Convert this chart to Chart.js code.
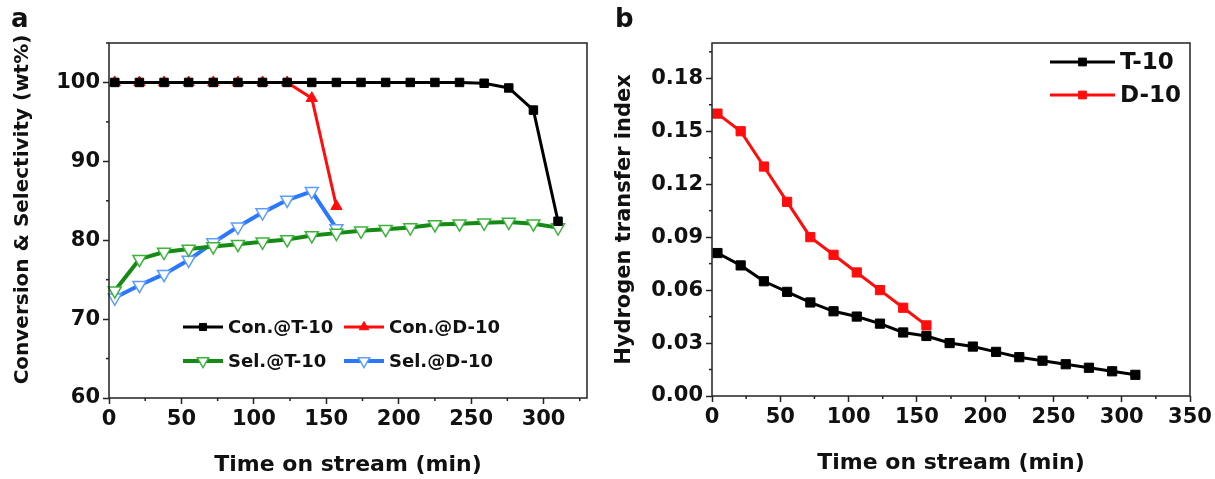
<!DOCTYPE html>
<html>
<head>
<meta charset="utf-8">
<script src="https://cdn.jsdelivr.net/npm/chart.js@4/dist/chart.umd.min.js"></script>
<style>
  html, body { margin: 0; padding: 0; background: #fff; }
  #wrap { position: relative; width: 1215px; height: 479px; }
  canvas { position: absolute; top: 0; }
  #chartA { left: 0; }
  #chartB { left: 600px; }
</style>
</head>
<body>
<div id="wrap">
  <canvas id="chartA" width="600" height="479"></canvas>
  <canvas id="chartB" width="615" height="479"></canvas>
</div>
<script>
// time on stream (min)
const timeT10 = [4, 21, 38, 55, 72, 89, 106, 123, 140, 157, 174, 191, 208, 225, 242, 259, 276, 293, 310];
const timeD10 = [4, 21, 38, 55, 72, 89, 106, 123, 140, 157];

// panel a: conversion & selectivity (wt%)
const conT10 = [100, 100, 100, 100, 100, 100, 100, 100, 100, 100, 100, 100, 100, 100, 100, 99.9, 99.3, 96.5, 82.4];
const conD10 = [100, 100, 100, 100, 100, 100, 100, 100, 98.0, 84.3];
const selT10 = [73.6, 77.6, 78.5, 78.9, 79.2, 79.5, 79.8, 80.1, 80.6, 80.9, 81.2, 81.4, 81.6, 82.0, 82.1, 82.2, 82.3, 82.1, 81.6];
const selD10 = [72.7, 74.3, 75.7, 77.5, 79.7, 81.7, 83.5, 85.1, 86.2, 81.5];

// panel b: hydrogen transfer index
const htiT10 = [0.081, 0.074, 0.065, 0.059, 0.053, 0.048, 0.045, 0.041, 0.036, 0.034, 0.030, 0.028, 0.025, 0.022, 0.020, 0.018, 0.016, 0.014, 0.012];
const htiD10 = [0.160, 0.150, 0.130, 0.110, 0.090, 0.080, 0.070, 0.060, 0.050, 0.040];

const FONT = 'DejaVu Sans';
const pts = (xs, ys) => xs.map((x, i) => ({ x, y: ys[i] }));

// frame on all four sides + short minor ticks
const frame = {
  id: 'frame',
  afterDraw(chart, args, o) {
    const { ctx, chartArea: a, scales } = chart;
    ctx.save();
    ctx.strokeStyle = '#222';
    ctx.lineWidth = 1.5;
    ctx.strokeRect(a.left, a.top, a.right - a.left, a.bottom - a.top);
    for (const id of ['x', 'y']) {
      const s = scales[id], step = o.minor[id];
      const majors = s.ticks.map(t => t.value);
      for (let v = s.min; v <= s.max + 1e-9; v += step) {
        if (majors.some(m => Math.abs(m - v) < step / 10)) continue;
        const p = s.getPixelForValue(v);
        ctx.beginPath();
        if (id === 'x') { ctx.moveTo(p, a.bottom); ctx.lineTo(p, a.bottom + 3); }
        else { ctx.moveTo(a.left, p); ctx.lineTo(a.left - 3, p); }
        ctx.stroke();
      }
    }
    ctx.restore();
  }
};

// axis titles, panel letter and an in-plot legend
const texts = {
  id: 'texts',
  afterDraw(chart, args, o) {
    const { ctx, chartArea: a } = chart;
    const cx = (a.left + a.right) / 2, cy = (a.top + a.bottom) / 2;
    ctx.save();
    ctx.fillStyle = '#111';
    ctx.textAlign = 'center';
    ctx.textBaseline = 'middle';
    ctx.font = `bold 22px "${FONT}"`;
    ctx.fillText(o.xTitle, cx, a.bottom + 67);
    ctx.save();
    ctx.translate(a.left + o.yTitleDx, cy + o.yTitleDy);
    ctx.rotate(-Math.PI / 2);
    ctx.font = `bold ${o.yTitleSize}px "${FONT}"`;
    ctx.fillText(o.yTitle, 0, 0);
    ctx.restore();
    ctx.textAlign = 'left';
    ctx.textBaseline = 'alphabetic';
    ctx.font = `bold 26px "${FONT}"`;
    ctx.fillText(o.letter, o.letterX, 27);

    ctx.textBaseline = 'middle';
    ctx.font = `bold ${o.legendSize}px "${FONT}"`;
    o.legend.forEach(it => {
      const ds = chart.data.datasets[it.ds];
      const x = a.left + it.dx, y = a.top + it.dy;
      ctx.strokeStyle = ds.borderColor;
      ctx.lineWidth = ds.borderWidth;
      ctx.beginPath(); ctx.moveTo(x, y); ctx.lineTo(x + o.lineLen, y); ctx.stroke();
      ctx.fillStyle = ds.pointBackgroundColor;
      ctx.strokeStyle = ds.pointBorderColor;
      ctx.lineWidth = ds.pointBorderWidth;
      Chart.helpers.drawPoint(ctx, {
        pointStyle: ds.pointStyle, rotation: ds.pointRotation || 0,
        radius: ds.pointRadius - 1, borderWidth: ds.pointBorderWidth
      }, x + o.lineLen / 2, y);
      ctx.fillStyle = '#111';
      ctx.fillText(ds.label, x + o.lineLen + 5, y + 1);
    });
    ctx.restore();
  }
};

function axis(min, max, step, fmt, fit) {
  return {
    type: 'linear', min, max,
    border: { display: false },
    grid: { drawOnChartArea: false, drawTicks: true, tickLength: 6, color: '#222', tickColor: '#222', tickWidth: 1.5 },
    ticks: {
      stepSize: step, includeBounds: false, autoSkip: false, maxRotation: 0, padding: 3,
      color: '#111', font: { family: FONT, size: 21, weight: 'bold' },
      callback: fmt
    },
    afterFit: fit
  };
}

function line(label, data, color, style, radius, opts = {}) {
  return Object.assign({
    label, data,
    borderColor: color, borderWidth: 3,
    pointStyle: style, pointRadius: radius,
    pointBackgroundColor: color, pointBorderColor: color, pointBorderWidth: 1,
    tension: 0, clip: false
  }, opts);
}

const common = {
  responsive: false, animation: false, events: [],
  plugins: { legend: { display: false }, tooltip: { enabled: false } }
};

new Chart(document.getElementById('chartA'), {
  type: 'line',
  data: {
    datasets: [
      line('Con.@T-10', pts(timeT10, conT10), '#000000', 'rect', 6),
      line('Con.@D-10', pts(timeD10, conD10), '#ff0d0d', 'triangle', 6.5),
      line('Sel.@T-10', pts(timeT10, selT10), '#158a15', 'triangle', 7.5,
        { borderWidth: 4, pointRotation: 180, pointBackgroundColor: '#ffffff', pointBorderColor: '#3cb43c', pointBorderWidth: 1.5 }),
      line('Sel.@D-10', pts(timeD10, selD10), '#2a78ff', 'triangle', 7.5,
        { borderWidth: 4, pointRotation: 180, pointBackgroundColor: '#ffffff', pointBorderColor: '#5c9dff', pointBorderWidth: 1.5 })
    ]
  },
  options: Object.assign({}, common, {
    layout: { padding: { left: 0, right: 13, top: 43, bottom: 0 } },
    scales: {
      x: axis(0, 330, 50, v => String(v), s => { s.height = 81; }),
      y: axis(60, 105, 10, v => String(v), s => { s.width = 109; })
    },
    plugins: Object.assign({}, common.plugins, {
      frame: { minor: { x: 25, y: 5 } },
      texts: {
        xTitle: 'Time on stream (min)', yTitle: 'Conversion & Selectivity (wt%)',
        yTitleDx: -86, yTitleDy: -11, yTitleSize: 20, letter: 'a', letterX: 11,
        legendSize: 18, lineLen: 40,
        legend: [
          { ds: 0, dx: 74, dy: 284 }, { ds: 1, dx: 235, dy: 284 },
          { ds: 2, dx: 74, dy: 318 }, { ds: 3, dx: 235, dy: 318 }
        ]
      }
    })
  }),
  plugins: [frame, texts]
});

new Chart(document.getElementById('chartB'), {
  type: 'line',
  data: {
    datasets: [
      line('T-10', pts(timeT10, htiT10), '#000000', 'rect', 6.5),
      line('D-10', pts(timeD10, htiD10), '#ff0d0d', 'rect', 6.5)
    ]
  },
  options: Object.assign({}, common, {
    layout: { padding: { left: 0, right: 25, top: 43, bottom: 0 } },
    scales: {
      x: axis(0, 350, 50, v => String(v), s => { s.height = 83; }),
      y: axis(0, 0.2, 0.03, v => v.toFixed(2), s => { s.width = 112; })
    },
    plugins: Object.assign({}, common.plugins, {
      frame: { minor: { x: 25, y: 0.015 } },
      texts: {
        xTitle: 'Time on stream (min)', yTitle: 'Hydrogen transfer index',
        yTitleDx: -87, yTitleDy: 0, yTitleSize: 21, letter: 'b', letterX: 15,
        legendSize: 23, lineLen: 65,
        legend: [
          { ds: 0, dx: 338, dy: 19 }, { ds: 1, dx: 338, dy: 52 }
        ]
      }
    })
  }),
  plugins: [frame, texts]
});
</script>
</body>
</html>
